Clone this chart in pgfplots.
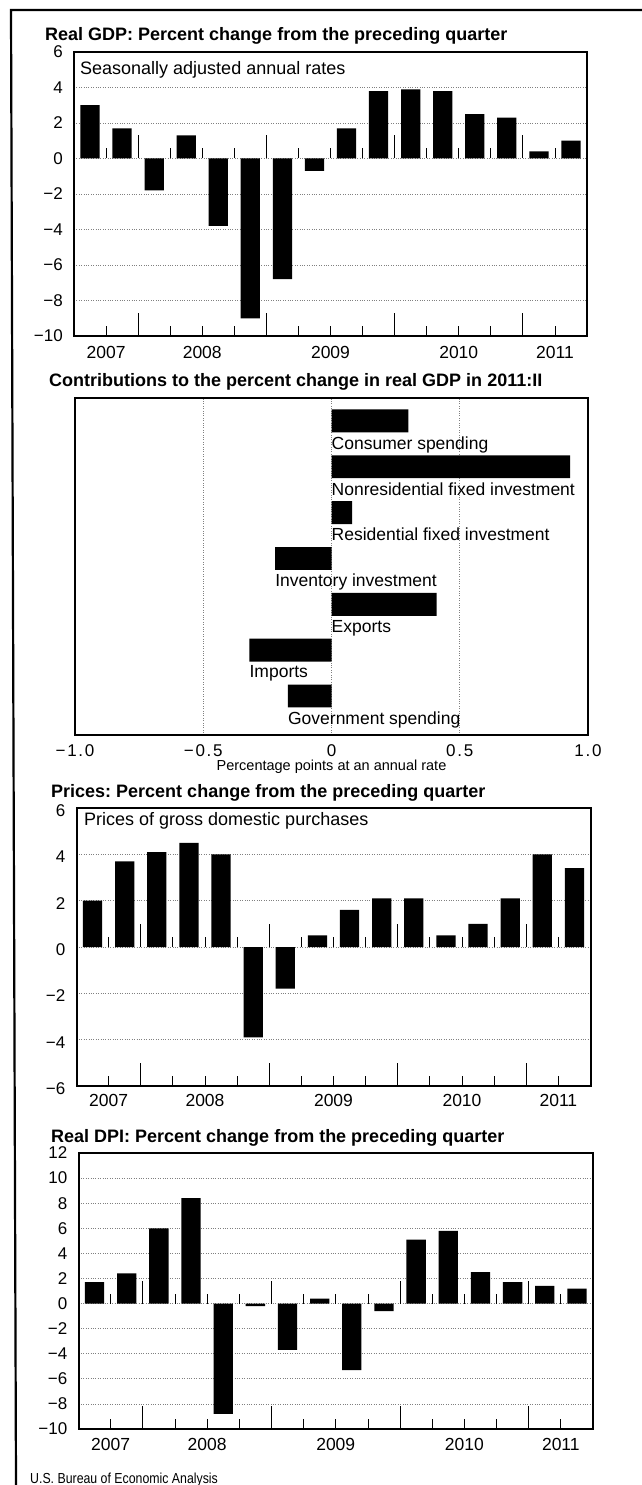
\documentclass[border=0pt]{standalone}
\usepackage{pgfplots}
\pgfplotsset{compat=1.18}
\usepackage{fontspec}
\setmainfont{Liberation Sans}
\newfontfamily\narrowfont[FakeStretch=0.85]{Liberation Sans}
\newfontfamily\spacedfont[LetterSpace=10]{Liberation Sans}
\newcommand\fT{\fontsize{18}{21}\selectfont\bfseries}
\newcommand\fN{\fontsize{17.5}{20}\selectfont}
\newcommand\fI{\fontsize{18}{21}\selectfont}
\newcommand\fS{\fontsize{17}{20}\selectfont}
\newcommand\fX{\fontsize{14.5}{17}\selectfont}
\frenchspacing

\pgfplotsset{
  qstyle/.style={
    scale only axis, clip=false,
    xmin=0.5, xmax=16.5,
    axis line style={line width=2pt},
    ybar, bar width=0.6, bar shift=0pt,
    xtick={1.5,3.5,4.5,5.5,7.5,8.5,9.5,11.5,12.5,13.5,15.5},
    xticklabels={},
    extra x ticks={2.5,6.5,10.5,14.5},
    extra x tick labels={},
    extra x tick style={major tick length=23pt},
    major tick length=10pt,
    tick align=inside,
    xtick pos=left,
    x tick style={black, line width=0.8pt},
    ytick style={draw=none},
    ymajorgrids,
    major grid style={gray, dotted, line width=0.7pt},
    yticklabel style={font=\fS, inner sep=0pt, xshift=-11pt},
  },
}

\newcommand\zeroticks{%
  \pgfplotsinvokeforeach{1.5,3.5,4.5,5.5,7.5,8.5,9.5,11.5,12.5,13.5,15.5}{%
    \draw[line width=0.8pt] (axis cs:##1,0) -- ([yshift=10pt]axis cs:##1,0);}%
  \pgfplotsinvokeforeach{2.5,6.5,10.5,14.5}{%
    \draw[line width=0.8pt] (axis cs:##1,0) -- ([yshift=23pt]axis cs:##1,0);}%
}
\newcommand\yearlabels[2]{%
  \node[font=\fN] at ([yshift=-#2]axis cs:1.5,#1) {2007};
  \node[font=\fN] at ([yshift=-#2]axis cs:4.5,#1) {2008};
  \node[font=\fN] at ([yshift=-#2]axis cs:8.5,#1) {2009};
  \node[font=\fN] at ([yshift=-#2]axis cs:12.5,#1) {2010};
  \node[font=\fN] at ([yshift=-#2]axis cs:15.5,#1) {2011};
}

\begin{document}
\begin{tikzpicture}
\path[use as bounding box] (0pt,0pt) rectangle (642pt,-1485pt);
% frame
\draw[line width=2.2pt] (642pt,-10pt) -- (11pt,-10pt) -- (16pt,-1485pt);

% ---------- Panel 1: Real GDP ----------
\node[anchor=base west, inner sep=0pt, font=\fT] at (45pt,-41pt)
  {Real GDP: Percent change from the preceding quarter};
\begin{axis}[qstyle, at={(74pt,-52pt)}, anchor=north west,
  width=513pt, height=284pt,
  ymin=-10, ymax=6, ytick={-10,-8,-6,-4,-2,0,2,4,6},
  yticklabels={−10,−8,−6,−4,−2,0,2,4,6}]
\addplot[fill=black, draw=none] coordinates {
 (1,3.0) (2,1.7) (3,-1.8) (4,1.3) (5,-3.8) (6,-9.0) (7,-6.8) (8,-0.7)
 (9,1.7) (10,3.8) (11,3.9) (12,3.8) (13,2.5) (14,2.3) (15,0.4) (16,1.0)};
\zeroticks
\yearlabels{-10}{16pt}
\node[font=\fI, anchor=west, inner sep=0pt] at ([xshift=6pt,yshift=-18pt]rel axis cs:0,1)
  {Seasonally adjusted annual rates};
\end{axis}

% ---------- Panel 2: Contributions ----------
\node[anchor=base west, inner sep=0pt, font=\fT] at (49pt,-386pt)
  {Contributions to the percent change in real GDP in 2011:II};
\begin{axis}[at={(75pt,-398pt)}, anchor=north west, scale only axis, clip=false,
  width=513pt, height=337pt,
  axis line style={line width=2pt},
  xbar, bar width=0.5, bar shift=0pt,
  xmin=-1, xmax=1, ymin=-7.85, ymax=-0.5,
  ytick=\empty,
  xtick={-1,-0.5,0,0.5,1},
  xticklabels={−1.0,−0.5,0,0.5,1.0},
  xtick style={draw=none},
  xmajorgrids,
  major grid style={gray, dotted, line width=0.7pt},
  xticklabel style={font=\spacedfont\fS, inner sep=0pt, yshift=-9pt}]
\addplot[fill=black, draw=none] coordinates {
 (0.30,-1) (0.93,-2) (0.08,-3) (-0.22,-4) (0.41,-5) (-0.32,-6) (-0.17,-7)};
\node[anchor=north west, inner sep=0pt, font=\fN] at ([yshift=-4pt]axis cs:0,-1.25) {Consumer spending};
\node[anchor=north west, inner sep=0pt, font=\fN] at ([yshift=-4pt]axis cs:0,-2.25) {Nonresidential fixed investment};
\node[anchor=north west, inner sep=0pt, font=\fN] at ([yshift=-4pt]axis cs:0,-3.25) {Residential fixed investment};
\node[anchor=north west, inner sep=0pt, font=\fN] at ([yshift=-4pt]axis cs:-0.22,-4.25) {Inventory investment};
\node[anchor=north west, inner sep=0pt, font=\fN] at ([yshift=-4pt]axis cs:0,-5.25) {Exports};
\node[anchor=north west, inner sep=0pt, font=\fN] at ([yshift=-4pt]axis cs:-0.32,-6.25) {Imports};
\node[anchor=north west, inner sep=0pt, font=\fN] at ([yshift=-4pt]axis cs:-0.17,-7.25) {Government spending};
\node[font=\fX] at ([yshift=-32pt]rel axis cs:0.5,0) {Percentage points at an annual rate};
\end{axis}

% ---------- Panel 3: Prices ----------
\node[anchor=base west, inner sep=0pt, font=\fT] at (51pt,-797.5pt)
  {Prices: Percent change from the preceding quarter};
\begin{axis}[qstyle, at={(76.5pt,-808pt)}, anchor=north west,
  width=514pt, height=278pt,
  ymin=-6, ymax=6, ytick={-6,-4,-2,0,2,4,6},
  yticklabels={−6,−4,−2,0,2,4,6},
  yticklabel style={yshift=-2.5pt}]
\addplot[fill=black, draw=none] coordinates {
 (1,2.0) (2,3.7) (3,4.1) (4,4.5) (5,4.0) (6,-3.9) (7,-1.8) (8,0.5)
 (9,1.6) (10,2.1) (11,2.1) (12,0.5) (13,1.0) (14,2.1) (15,4.0) (16,3.4)};
\zeroticks
\yearlabels{-6}{14pt}
\node[font=\fI, anchor=west, inner sep=0pt] at ([xshift=7.5pt,yshift=-13pt]rel axis cs:0,1)
  {Prices of gross domestic purchases};
\end{axis}

% ---------- Panel 4: Real DPI ----------
\node[anchor=base west, inner sep=0pt, font=\fT] at (51pt,-1142pt)
  {Real DPI: Percent change from the preceding quarter};
\begin{axis}[qstyle, at={(78.5pt,-1153pt)}, anchor=north west,
  width=514.5pt, height=276pt,
  ymin=-10, ymax=12, ytick={-10,-8,-6,-4,-2,0,2,4,6,8,10,12},
  yticklabels={−10,−8,−6,−4,−2,0,2,4,6,8,10,12}]
\addplot[fill=black, draw=none] coordinates {
 (1,1.7) (2,2.4) (3,6.0) (4,8.4) (5,-8.8) (6,-0.2) (7,-3.7) (8,0.4)
 (9,-5.3) (10,-0.6) (11,5.1) (12,5.8) (13,2.5) (14,1.7) (15,1.4) (16,1.2)};
\zeroticks
\yearlabels{-10}{15.5pt}
\end{axis}

\node[anchor=base west, inner sep=0pt, font=\narrowfont\fontsize{14.5}{17}\selectfont]
  at (30pt,-1483pt) {U.S. Bureau of Economic Analysis};
\end{tikzpicture}
\end{document}
